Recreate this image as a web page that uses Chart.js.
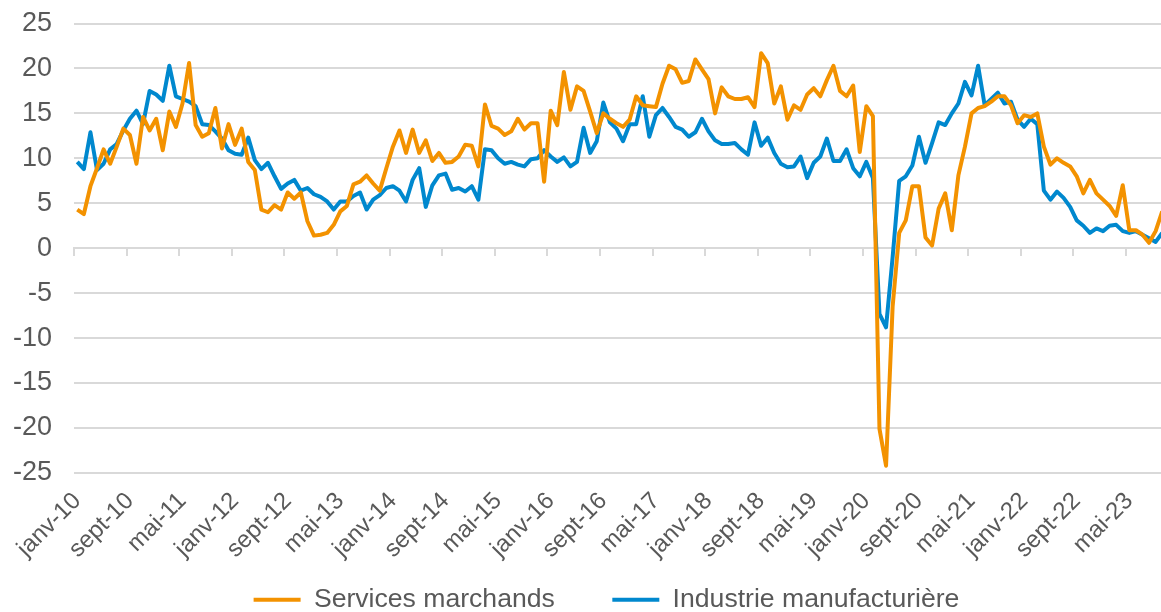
<!DOCTYPE html>
<html>
<head>
<meta charset="utf-8">
<script src="https://cdn.jsdelivr.net/npm/chart.js@4.4.0/dist/chart.umd.min.js"></script>
<style>
html,body{margin:0;padding:0;background:#fff;overflow:hidden}
#wrap{width:1213px;height:623px;position:relative}
</style>
</head>
<body>
<div id="wrap"><canvas id="c"></canvas></div>
<script>
const monthNames = ['janv','févr','mars','avr','mai','juin','juil','août','sept','oct','nov','déc'];
const yearLabels = ['10','11','12','13','14','15','16','17','18','19','20','21','22','23'];
const nPoints = 166;
const categories = [];
for (let k = 0; k < nPoints; k++) {
  categories.push(monthNames[k % 12] + '-' + yearLabels[Math.floor(k / 12)]);
}

const services = [
  4.3, 3.8, 6.9, 8.9, 11.0, 9.4, 11.3, 13.3, 12.6, 9.4, 14.6, 13.1,
  14.4, 10.9, 15.2, 13.5, 16.1, 20.6, 13.7, 12.4, 12.8, 15.6, 11.1, 13.8,
  11.5, 13.3, 9.6, 8.7, 4.3, 4.0, 4.8, 4.3, 6.2, 5.5, 6.2, 3.0,
  1.4, 1.5, 1.7, 2.6, 4.1, 4.7, 7.1, 7.4, 8.1, 7.2, 6.4, 8.9,
  11.3, 13.1, 10.6, 13.2, 10.6, 12.0, 9.7, 10.6, 9.5, 9.6, 10.2, 11.5,
  11.4, 9.1, 16.0, 13.6, 13.3, 12.6, 13.0, 14.4, 13.2, 13.9, 13.9, 7.4,
  15.3, 13.7, 19.6, 15.4, 18.0, 17.5, 15.2, 12.8, 15.0, 14.4, 13.9, 13.5,
  14.3, 16.9, 15.9, 15.8, 15.7, 18.3, 20.3, 19.9, 18.4, 18.6, 21.0, 19.9,
  18.8, 15.0, 17.9, 16.9, 16.6, 16.6, 16.8, 15.7, 21.7, 20.6, 16.1, 18.0,
  14.3, 15.9, 15.4, 17.1, 17.8, 16.9, 18.7, 20.3, 17.5, 16.9, 18.1, 10.7,
  15.8, 14.7, -20.1, -24.2, -6.5, 1.7, 3.1, 6.9, 6.9, 1.2, 0.3, 4.4,
  6.1, 2.0, 8.1, 11.3, 15.0, 15.6, 15.8, 16.3, 16.9, 16.9, 15.9, 13.9,
  14.8, 14.6, 15.0, 11.3, 9.3, 10.0, 9.5, 9.1, 8.0, 6.1, 7.6, 6.1,
  5.4, 4.7, 3.6, 7.0, 2.0, 2.0, 1.5, 0.6, 1.9, 4.1
];

const industrie = [
  9.6, 8.8, 12.9, 8.7, 9.4, 11.0, 11.6, 13.1, 14.4, 15.3, 13.8, 17.5,
  17.1, 16.4, 20.3, 16.9, 16.6, 16.3, 15.8, 13.8, 13.7, 13.0, 12.2, 10.9,
  10.5, 10.4, 12.3, 9.8, 8.8, 9.5, 8.0, 6.6, 7.2, 7.6, 6.4, 6.7,
  6.0, 5.7, 5.2, 4.3, 5.2, 5.2, 5.8, 6.2, 4.3, 5.4, 5.9, 6.7,
  6.9, 6.4, 5.2, 7.6, 8.9, 4.6, 7.0, 8.1, 8.3, 6.5, 6.7, 6.3,
  6.9, 5.4, 11.0, 10.9, 10.0, 9.4, 9.6, 9.3, 9.1, 9.9, 10.0, 10.9,
  10.2, 9.6, 10.1, 9.1, 9.6, 13.4, 10.6, 11.9, 16.2, 14.0, 13.3, 11.9,
  13.8, 13.8, 16.9, 12.4, 14.8, 15.6, 14.6, 13.5, 13.2, 12.4, 12.9, 14.4,
  13.0, 12.0, 11.6, 11.6, 11.7, 11.0, 10.4, 14.0, 11.4, 12.3, 10.6, 9.4,
  9.0, 9.1, 10.2, 7.8, 9.5, 10.2, 12.2, 9.7, 9.7, 11.0, 8.9, 8.0,
  9.6, 7.8, -7.3, -8.8, -1.0, 7.5, 8.0, 9.2, 12.4, 9.5, 11.7, 14.0,
  13.7, 15.0, 16.1, 18.5, 17.0, 20.3, 15.9, 16.6, 17.3, 16.1, 16.3, 14.3,
  13.5, 14.4, 13.8, 6.4, 5.4, 6.3, 5.6, 4.6, 3.1, 2.5, 1.7, 2.2,
  1.9, 2.5, 2.6, 1.9, 1.7, 1.9, 1.5, 1.1, 0.7, 1.7
];

const seriesNames = ['Services marchands', 'Industrie manufacturière'];
const seriesColors = ['#F39200', '#0088CE'];
const yMin = -25, yMax = 25, yStep = 5;
const labelEvery = 8;

const FONT = "'Liberation Sans', Arial, sans-serif";
const TEXT = '#595959';
const GRID = '#d9d9d9';

const noPad = (s) => { s.paddingLeft = 0; s.paddingRight = 0; };

new Chart(document.getElementById('c'), {
  type: 'line',
  data: {
    labels: categories,
    datasets: [
      { label: seriesNames[0], data: services, borderColor: seriesColors[0], backgroundColor: seriesColors[0],
        borderWidth: 4, pointRadius: 0, pointHoverRadius: 0, tension: 0, xAxisID: 'x', yAxisID: 'y', borderJoinStyle: 'round', pointStyle: 'line' },
      { label: seriesNames[1], data: industrie, borderColor: seriesColors[1], backgroundColor: seriesColors[1],
        borderWidth: 4, pointRadius: 0, pointHoverRadius: 0, tension: 0, xAxisID: 'x', yAxisID: 'y', borderJoinStyle: 'round', pointStyle: 'line' }
    ]
  },
  options: {
    responsive: true,
    maintainAspectRatio: false,
    animation: false,
    layout: { padding: { left: 0, right: 0, top: 0, bottom: 0 } },
    plugins: {
      legend: {
        position: 'bottom',
        labels: {
          usePointStyle: true, pointStyle: 'line', pointStyleWidth: 47,
          font: { family: FONT, size: 26.6 }, color: TEXT, padding: 57.5
        }
      },
      tooltip: { enabled: false }
    },
    scales: {
      x: {
        type: 'category',
        position: { y: 0 },
        offset: true,
        grid: {
          offset: true, drawOnChartArea: false, drawTicks: true, tickLength: 7, lineWidth: 2,
          color: (c) => (c.index % labelEvery === 0 ? GRID : 'rgba(0,0,0,0)')
        },
        border: { display: true, color: GRID, width: 2 },
        ticks: { display: false },
        afterFit: noPad
      },
      x2: {
        type: 'category',
        position: { y: yMin },
        offset: true,
        grid: { display: false, drawTicks: true, tickLength: 8 },
        border: { display: false },
        afterFit: noPad,
        ticks: {
          autoSkip: false, maxRotation: 45, minRotation: 45, color: TEXT,
          font: { family: FONT, size: 24 }, padding: 6,
          callback: function (v, i) { return i % labelEvery === 0 ? this.getLabelForValue(v) : null; }
        }
      },
      xSpacer: {
        type: 'category',
        position: 'bottom',
        display: true,
        grid: { display: false, drawTicks: false },
        border: { display: false },
        ticks: { display: false },
        afterFit: (s) => { s.height = 56; s.paddingLeft = 0; s.paddingRight = 0; }
      },
      y: {
        min: yMin, max: yMax,
        ticks: { stepSize: yStep, color: TEXT, font: { family: FONT, size: 27 }, padding: 22 },
        grid: { color: GRID, lineWidth: 2, drawTicks: false },
        border: { display: false },
        afterFit: (s) => { s.width = 74; s.paddingTop = 23.5; s.paddingBottom = 0; }
      },
      ySpacer: {
        type: 'linear',
        position: 'right',
        display: true,
        min: 0, max: 1,
        grid: { display: false, drawTicks: false },
        border: { display: false },
        ticks: { display: false },
        afterFit: (s) => { s.width = 47.5; }
      }
    }
  }
});
</script>
</body>
</html>
